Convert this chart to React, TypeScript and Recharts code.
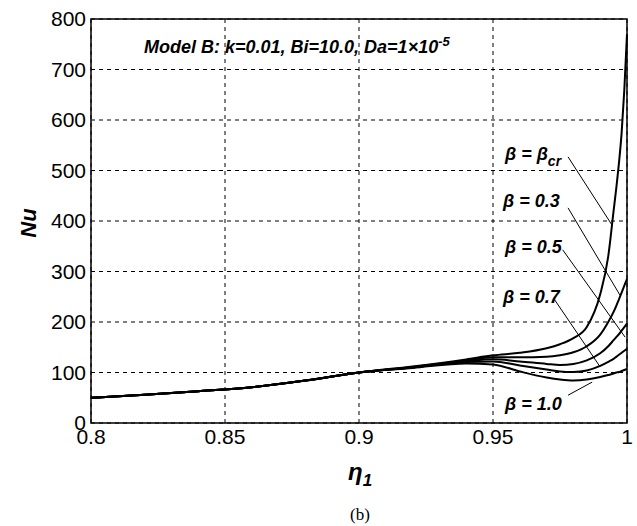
import React from 'react';
import {
  LineChart,
  Line,
  XAxis,
  YAxis,
  CartesianGrid,
  ReferenceArea,
  ReferenceLine,
} from 'recharts';

// eta_1 sample points
const eta = [
  0.8, 0.82, 0.84, 0.86, 0.88, 0.9, 0.92, 0.94, 0.95, 0.96, 0.97, 0.975, 0.98,
  0.985, 0.99, 0.993, 0.995, 0.996, 0.997, 0.998, 0.999, 1.0,
];

// Nu for each beta
const nuBetaCr = [
  50, 56, 63, 71, 84, 100, 112, 126, 134, 139, 148, 156, 168, 190, 255, 330,
  420, 465, 515, 575, 660, 770,
];
const nuBeta03 = [
  50, 56, 63, 71, 84, 100, 111, 124, 130, 130, 131, 134, 140, 152, 175, 200,
  220, 232, 245, 258, 272, 285,
];
const nuBeta05 = [
  50, 56, 63, 71, 84, 100, 110, 122, 126, 122, 117, 115, 117, 124, 138, 152,
  164, 170, 176, 183, 190, 197,
];
const nuBeta07 = [
  50, 56, 63, 71, 84, 100, 110, 121, 122, 114, 106, 102, 101, 104, 113, 121,
  127, 131, 135, 139, 143, 147,
];
const nuBeta10 = [
  50, 56, 63, 71, 84, 100, 109, 118, 116, 102, 90, 86, 84, 86, 91, 95, 98,
  100, 101, 103, 105, 107,
];

const xTicks = [0.8, 0.85, 0.9, 0.95, 1];
const yTicks = [0, 100, 200, 300, 400, 500, 600, 700, 800];

// leader lines: label end -> curve
const leaders = [
  [{ x: 0.978, y: 527 }, { x: 0.9944, y: 392 }],
  [{ x: 0.978, y: 426 }, { x: 0.9974, y: 253 }],
  [{ x: 0.976, y: 343 }, { x: 0.9993, y: 170 }],
  [{ x: 0.973, y: 244 }, { x: 0.99, y: 111 }],
  [{ x: 0.978, y: 55 }, { x: 0.987, y: 81 }],
];

const data = eta.map((e, i) => ({
  eta: e,
  bcr: nuBetaCr[i],
  b03: nuBeta03[i],
  b05: nuBeta05[i],
  b07: nuBeta07[i],
  b10: nuBeta10[i],
}));

const SANS = '"Liberation Sans", Arial, sans-serif';

export default function App() {
  const labelStyle = {
    fontFamily: SANS,
    fontSize: 18,
    fontWeight: 'bold' as const,
    fontStyle: 'italic' as const,
    fill: '#000',
  };

  return (
    <div
      style={{
        position: 'absolute',
        left: 0,
        top: 0,
        width: 637,
        height: 526,
        background: '#fff',
      }}
    >
      <LineChart
        width={637}
        height={526}
        data={data}
        margin={{ top: 19, right: 10, left: 0, bottom: 73 }}
      >
        <CartesianGrid
          stroke="#000"
          strokeDasharray="4 4"
          strokeWidth={1}
          horizontalValues={yTicks}
          verticalValues={xTicks}
        />
        <XAxis
          dataKey="eta"
          type="number"
          domain={[0.8, 1]}
          ticks={xTicks}
          tickLine={false}
          axisLine={false}
          tickSize={0}
          tickMargin={6}
          height={30}
          tick={{ fill: '#000', fontSize: 21, fontFamily: SANS }}
        />
        <YAxis
          type="number"
          domain={[0, 800]}
          ticks={yTicks}
          tickLine={false}
          axisLine={false}
          tickSize={0}
          tickMargin={5}
          width={91}
          tick={{ fill: '#000', fontSize: 21, fontFamily: SANS }}
        />
        <ReferenceArea
          x1={0.8}
          x2={1}
          y1={0}
          y2={800}
          fill="none"
          fillOpacity={0}
          stroke="#000"
          strokeWidth={1.5}
        />
        {leaders.map((seg, i) => (
          <ReferenceLine key={i} segment={seg} stroke="#000" strokeWidth={1} />
        ))}
        <Line type="monotone" dataKey="b10" stroke="#000" strokeWidth={2} dot={false} isAnimationActive={false} />
        <Line type="monotone" dataKey="b07" stroke="#000" strokeWidth={2} dot={false} isAnimationActive={false} />
        <Line type="monotone" dataKey="b05" stroke="#000" strokeWidth={2} dot={false} isAnimationActive={false} />
        <Line type="monotone" dataKey="b03" stroke="#000" strokeWidth={2} dot={false} isAnimationActive={false} />
        <Line type="monotone" dataKey="bcr" stroke="#000" strokeWidth={2} dot={false} isAnimationActive={false} />
      </LineChart>

      {/* text overlay */}
      <svg
        width={637}
        height={526}
        style={{ position: 'absolute', left: 0, top: 0, pointerEvents: 'none' }}
      >
        <text x={144} y={53} {...labelStyle}>
          Model B: k=0.01, Bi=10.0, Da=1×10
          <tspan fontSize={13} dy={-7}>-5</tspan>
        </text>

        <text x={505} y={160} {...labelStyle}>
          β = β<tspan fontSize={14} dy={6}>cr</tspan>
        </text>
        <text x={503} y={207} {...labelStyle}>β = 0.3</text>
        <text x={505} y={253} {...labelStyle}>β = 0.5</text>
        <text x={503} y={303} {...labelStyle}>β = 0.7</text>
        <text x={505} y={410} {...labelStyle}>β = 1.0</text>

        <text
          x={0}
          y={0}
          transform="translate(36 223) rotate(-90)"
          textAnchor="middle"
          fontFamily={SANS}
          fontSize={22}
          fontWeight="bold"
          fontStyle="italic"
        >
          Nu
        </text>

        <text x={348} y={480} fontFamily={SANS} fontSize={24} fontWeight="bold" fontStyle="italic">
          η<tspan fontSize={17} dy={6}>1</tspan>
        </text>

        <text
          x={360}
          y={520}
          textAnchor="middle"
          fontFamily='"Liberation Serif", "Times New Roman", serif'
          fontSize={17}
        >
          (b)
        </text>
      </svg>
    </div>
  );
}
